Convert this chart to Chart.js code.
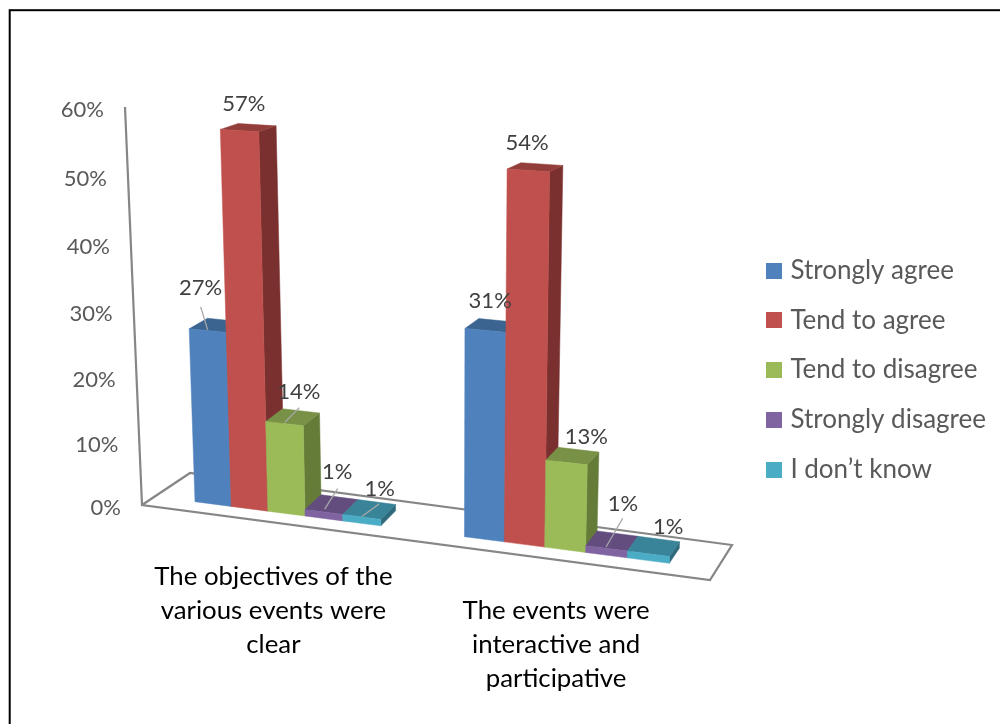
<!DOCTYPE html>
<html>
<head>
<meta charset="utf-8">
<title>Chart</title>
<script src="https://cdn.jsdelivr.net/npm/chart.js@4"></script>
<style>
  html, body { margin: 0; padding: 0; background: #fff; }
  canvas { display: block; }
</style>
</head>
<body>
<canvas id="chart3d" width="1000" height="724"></canvas>
<script>
// ===== DATA =====
const categories = [
  ['The objectives of the', 'various events were', 'clear'],
  ['The events were', 'interactive and', 'participative']
];
const seriesNames   = ['Strongly agree', 'Tend to agree', 'Tend to disagree', 'Strongly disagree', 'I don’t know'];
const stronglyAgree    = [27, 31];
const tendToAgree      = [57, 54];
const tendToDisagree   = [14, 13];
const stronglyDisagree = [1, 1];
const dontKnow         = [1, 1];
const seriesValues = [stronglyAgree, tendToAgree, tendToDisagree, stronglyDisagree, dontKnow];

// ===== COLOURS =====
const frontColors = ['#4F81BD', '#C0504D', '#9BBB59', '#8064A2', '#4BACC6'];
const topColors   = ['#3C6491', '#943E3B', '#789146', '#634D7E', '#3A8499'];
const sideColors  = ['#2F4F74', '#7A302E', '#647C38', '#4F3D65', '#2E6A7B'];

// ===== PERSPECTIVE (pixels of the 3D box, corners BL, BR, TR, TL) =====
const barFront = [[195, 501.7], [669.3, 563.3], [682, 135.5], [181.7, 106.3]];
const barBack  = [[213.1, 486.7], [679.3, 548.3], [694, 130], [200.2, 100.8]];
const wall     = [[142, 505], [710, 580], [725.5, 142], [125, 107]];
const floorBack = [[190, 473], [732, 545]];

// label offset from the centre of each bar's top face [category][series]
const labelOffsets = [
  [[-16, -37.5], [-4.6, -23.3], [6, -25], [5.5, -32.5], [10.5, -20.6]],
  [[-2, -24.7], [-8, -24], [13.7, -18.8], [11, -36.8], [14.7, -19.4]]
];
// leader lines: [category, series, from x, from y, to x, to y] relative to the same centre
const leaders = [
  [0, 0, -9, 4.5, -16, -18.5],
  [0, 2, -8, 5, 6.5, -9.5],
  [0, 3, -7, 4.5, 6, -16],
  [0, 4, -7.5, 7, 10, -5.6],
  [1, 3, -6, 6, 10.7, -22.8]
];
// category label offset from the foot of the group [category]
const catLabelOffsets = [[-13, 63], [-9, 61]];

// unit square -> quad
function homography(q) {
  const [[x0, y0], [x1, y1], [x2, y2], [x3, y3]] = q;
  const sx = x0 - x1 + x2 - x3, sy = y0 - y1 + y2 - y3;
  const dx1 = x1 - x2, dx2 = x3 - x2, dy1 = y1 - y2, dy2 = y3 - y2;
  const den = dx1 * dy2 - dx2 * dy1;
  const g = (sx * dy2 - dx2 * sy) / den;
  const h = (dx1 * sy - sx * dy1) / den;
  const a = x1 - x0 + g * x1, b = x3 - x0 + h * x3;
  const d = y1 - y0 + g * y1, e = y3 - y0 + h * y3;
  return (u, v) => {
    const w = g * u + h * v + 1;
    return [(a * u + b * v + x0) / w, (d * u + e * v + y0) / w];
  };
}
const projFront = homography(barFront);
const projBack  = homography(barBack);
const projWall  = homography(wall);

function poly(ctx, pts, color) {
  ctx.beginPath();
  pts.forEach((p, i) => i ? ctx.lineTo(p[0], p[1]) : ctx.moveTo(p[0], p[1]));
  ctx.closePath();
  ctx.fillStyle = color;
  ctx.fill();
  ctx.strokeStyle = color;
  ctx.lineWidth = 0.5;
  ctx.stroke();
}

// legend swatch, wider than the legend's own slot so the text sits closer to it
function swatch(color) {
  const c = document.createElement('canvas');
  c.width = 16; c.height = 16;
  const g = c.getContext('2d');
  g.fillStyle = color;
  g.fillRect(0, 0, 16, 16);
  return c;
}
const swatches = frontColors.map(swatch);

// ===== 3D PLUGIN =====
const perspectivePlugin = {
  id: 'perspective',
  beforeDraw(chart) {
    const ctx = chart.ctx;
    ctx.save();
    // outer frame, runs off the picture on the right and bottom
    ctx.strokeStyle = '#000';
    ctx.lineWidth = 2;
    ctx.strokeRect(9.7, 10.2, 1100, 900);
    ctx.restore();
  },
  beforeDatasetDraw() {
    return false; // bars are painted below, in perspective
  },
  beforeDatasetsDraw(chart) {
    const ctx = chart.ctx;
    const yScale = chart.scales.y, xScale = chart.scales.x;
    const first = chart.getDatasetMeta(0).data[0];
    const last = chart.getDatasetMeta(seriesValues.length - 1).data[categories.length - 1];
    const uMin = first.x - first.width / 2, uMax = last.x + last.width / 2;
    const toU = px => (px - uMin) / (uMax - uMin);
    const toV = px => (yScale.bottom - px) / (yScale.bottom - yScale.top);

    ctx.save();
    // y axis and floor
    const axisOf = tick => projWall(0, toV(yScale.getPixelForValue(tick.value)));
    ctx.strokeStyle = '#868686';
    ctx.lineWidth = 2.2;
    ctx.lineJoin = 'miter';
    ctx.beginPath();
    ctx.moveTo(wall[3][0], wall[3][1]);
    ctx.lineTo(wall[0][0], wall[0][1]);
    ctx.lineTo(wall[1][0], wall[1][1]);
    ctx.lineTo(floorBack[1][0], floorBack[1][1]);
    ctx.lineTo(floorBack[0][0], floorBack[0][1]);
    ctx.lineTo(wall[0][0], wall[0][1]);
    ctx.stroke();

    // y tick labels
    ctx.font = '22px Lato';
    ctx.fillStyle = '#595959';
    ctx.textAlign = 'right';
    ctx.textBaseline = 'middle';
    yScale.ticks.forEach(tick => {
      const p = axisOf(tick);
      ctx.fillText(tick.label, p[0] - 21, p[1] + 3);
    });

    // bars, left to right
    const centres = [];
    categories.forEach((cat, c) => {
      centres[c] = [];
      seriesValues.forEach((vals, s) => {
        const bar = chart.getDatasetMeta(s).data[c];
        const u0 = toU(bar.x - bar.width / 2), u1 = toU(bar.x + bar.width / 2);
        const v0 = toV(bar.base), v1 = toV(bar.y);
        const fbl = projFront(u0, v0), fbr = projFront(u1, v0);
        const ftl = projFront(u0, v1), ftr = projFront(u1, v1);
        const bbr = projBack(u1, v0), btl = projBack(u0, v1), btr = projBack(u1, v1);
        poly(ctx, [fbr, bbr, btr, ftr], sideColors[s]);
        poly(ctx, [ftl, ftr, btr, btl], topColors[s]);
        poly(ctx, [fbl, fbr, ftr, ftl], frontColors[s]);
        centres[c][s] = [(ftl[0] + ftr[0] + btl[0] + btr[0]) / 4, (ftl[1] + ftr[1] + btl[1] + btr[1]) / 4];
      });
    });

    // leader lines
    ctx.strokeStyle = '#A6A6A6';
    ctx.lineWidth = 1.3;
    leaders.forEach(([c, s, x0, y0, x1, y1]) => {
      const m = centres[c][s];
      ctx.beginPath();
      ctx.moveTo(m[0] + x0, m[1] + y0);
      ctx.lineTo(m[0] + x1, m[1] + y1);
      ctx.stroke();
    });

    // value labels
    ctx.font = '22px Lato';
    ctx.fillStyle = '#404040';
    ctx.textAlign = 'center';
    categories.forEach((cat, c) => {
      seriesValues.forEach((vals, s) => {
        const m = centres[c][s], o = labelOffsets[c][s];
        ctx.fillText(vals[c] + '%', m[0] + o[0], m[1] + o[1]);
      });
    });

    // category labels hang under the sloping floor
    ctx.font = '25.8px Lato';
    ctx.fillStyle = '#000';
    categories.forEach((lines, c) => {
      const p = projFront(toU(xScale.getPixelForValue(c)), 0);
      const o = catLabelOffsets[c];
      lines.forEach((line, i) => {
        ctx.fillText(line, p[0] + o[0], p[1] + o[1] + i * 34.2);
      });
    });
    ctx.restore();
  }
};

// ===== CHART =====
new Chart(document.getElementById('chart3d'), {
  type: 'bar',
  data: {
    labels: categories,
    datasets: seriesNames.map((name, i) => ({
      label: name,
      data: seriesValues[i],
      backgroundColor: frontColors[i]
    }))
  },
  options: {
    responsive: false,
    animation: false,
    layout: { padding: { left: 142, top: 16, right: 4, bottom: 0 } },
    datasets: { bar: { categoryPercentage: 0.7, barPercentage: 1 } },
    scales: {
      x: { display: false },
      y: {
        display: false, min: 0, max: 60,
        ticks: { stepSize: 10, callback: v => v + '%' }
      }
    },
    plugins: {
      tooltip: { enabled: false },
      legend: {
        position: 'right',
        labels: {
          usePointStyle: true,
          pointStyleWidth: 6,
          padding: 23.75,
          color: '#595959',
          font: { family: 'Lato', size: 26 },
          generateLabels: chart => chart.data.datasets.map((d, i) => ({
            text: d.label,
            fillStyle: d.backgroundColor,
            strokeStyle: d.backgroundColor,
            lineWidth: 0,
            pointStyle: swatches[i],
            fontColor: '#595959',
            datasetIndex: i
          }))
        }
      }
    }
  },
  plugins: [perspectivePlugin]
});
</script>
</body>
</html>
